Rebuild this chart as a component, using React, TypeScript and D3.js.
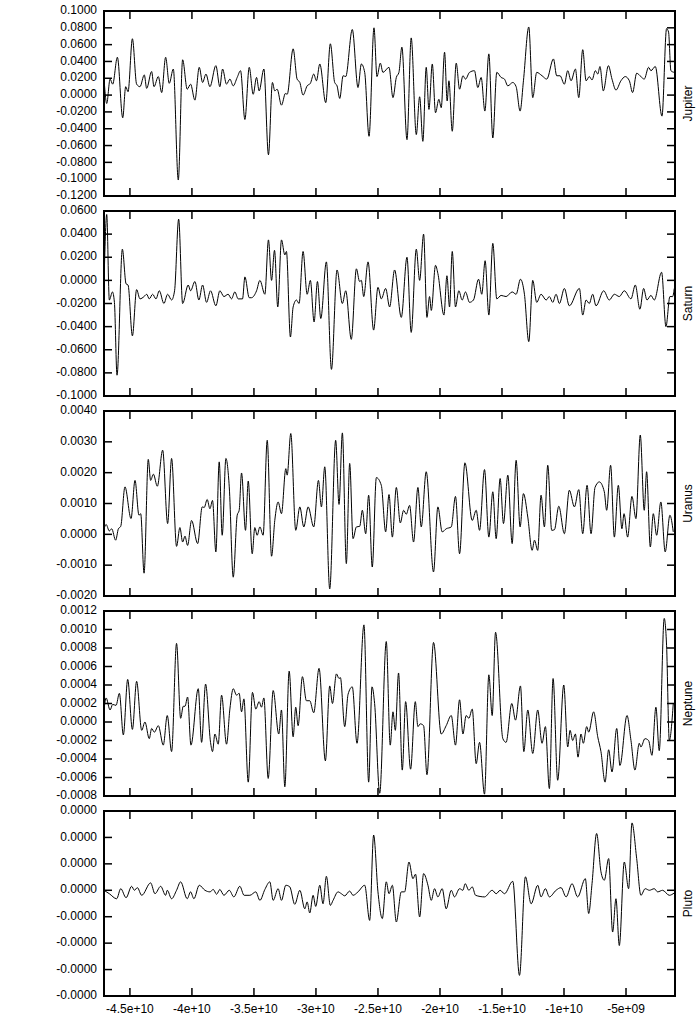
import React from 'react';
import * as d3 from 'd3';

// time in units of 1e9
const jupiter: [number, number][] = [
  [-47.09, 0.020], [-46.87, -0.010], [-46.60, 0.019], [-46.39, 0.013], [-46.01, 0.045], [-45.58, -0.027],
  [-45.34, 0.010], [-45.15, 0.004], [-44.80, 0.067], [-44.46, 0.013], [-44.19, 0.010], [-43.84, 0.024],
  [-43.65, 0.008], [-43.25, 0.028], [-43.06, 0.010], [-42.71, 0.022], [-42.44, 0.003], [-42.12, 0.045],
  [-41.83, 0.014], [-41.50, 0.031], [-41.10, -0.101], [-40.75, 0.042], [-40.38, 0.007], [-40.11, 0.013],
  [-39.76, -0.006], [-39.41, 0.033], [-39.14, 0.015], [-38.87, 0.025], [-38.55, 0.010], [-38.07, 0.035],
  [-37.75, 0.010], [-37.53, 0.031], [-37.21, 0.013], [-36.94, 0.019], [-36.67, 0.011], [-36.35, 0.021],
  [-36.08, 0.029], [-35.73, -0.029], [-35.38, 0.033], [-35.06, 0.001], [-34.79, 0.021], [-34.58, 0.005],
  [-34.20, 0.031], [-33.83, -0.071], [-33.51, 0.015], [-33.32, 0.005], [-33.13, 0.007], [-32.78, -0.012],
  [-32.46, 0.002], [-32.32, 0.001], [-31.84, 0.055], [-31.52, 0.019], [-31.30, 0.015], [-31.04, 0.000],
  [-30.71, 0.011], [-30.45, 0.014], [-30.18, 0.025], [-29.96, 0.017], [-29.69, 0.037], [-29.21, -0.009],
  [-28.84, 0.061], [-28.49, 0.015], [-28.30, 0.011], [-28.08, -0.004], [-27.81, 0.023], [-27.60, 0.022],
  [-27.07, 0.078], [-26.61, 0.009], [-26.34, 0.037], [-26.07, 0.027], [-25.72, -0.049], [-25.32, 0.080],
  [-25.08, 0.022], [-24.81, 0.038], [-24.60, 0.027], [-24.11, 0.033], [-23.79, -0.003], [-23.52, 0.021],
  [-23.31, 0.027], [-23.07, 0.057], [-22.66, -0.053], [-22.32, 0.068], [-21.91, -0.047], [-21.64, -0.002],
  [-21.38, -0.055], [-21.11, 0.033], [-20.89, -0.017], [-20.62, 0.037], [-20.36, -0.021], [-20.09, -0.005],
  [-19.90, -0.015], [-19.63, 0.051], [-19.42, -0.007], [-19.28, 0.017], [-19.01, -0.043], [-18.69, 0.038],
  [-18.42, 0.007], [-18.15, 0.023], [-17.94, 0.019], [-17.62, 0.027], [-17.22, 0.029], [-16.95, 0.009],
  [-16.68, 0.021], [-16.38, -0.019], [-16.06, 0.049], [-15.74, -0.051], [-15.42, 0.027], [-15.07, 0.021],
  [-14.80, 0.019], [-14.53, 0.011], [-14.13, 0.015], [-13.86, 0.010], [-13.54, -0.019], [-13.27, 0.017],
  [-12.84, 0.081], [-12.52, -0.003], [-12.20, 0.027], [-11.77, 0.023], [-11.39, 0.019], [-10.85, 0.043],
  [-10.59, 0.023], [-10.32, 0.023], [-9.97, 0.013], [-9.70, 0.029], [-9.43, 0.017], [-9.08, 0.031],
  [-8.81, -0.003], [-8.49, 0.054], [-8.22, 0.017], [-7.96, 0.022], [-7.74, 0.018], [-7.47, 0.029],
  [-7.28, 0.025], [-7.10, 0.034], [-6.83, 0.005], [-6.42, 0.035], [-6.13, 0.019], [-5.81, 0.006],
  [-5.41, 0.017], [-5.06, 0.022], [-4.73, 0.017], [-4.47, 0.003], [-4.14, 0.026], [-3.80, 0.022],
  [-3.53, 0.019], [-3.18, 0.033], [-2.99, 0.029], [-2.64, 0.034], [-2.10, -0.025], [-1.73, 0.079],
  [-1.57, 0.075], [-1.38, 0.029], [-1.11, 0.027]
];

const saturn: [number, number][] = [
  [-47.09, -0.003], [-46.87, 0.057], [-46.66, -0.017], [-46.41, -0.010], [-46.25, -0.019], [-46.04, -0.082],
  [-45.61, 0.027], [-45.31, -0.003], [-45.15, -0.004], [-44.80, -0.048], [-44.46, -0.008], [-44.19, -0.016],
  [-43.86, -0.014], [-43.65, -0.012], [-43.44, -0.016], [-43.17, -0.012], [-42.90, -0.016], [-42.63, -0.009],
  [-42.26, -0.020], [-41.96, -0.012], [-41.64, -0.017], [-41.40, -0.009], [-41.07, 0.053], [-40.75, -0.020],
  [-40.30, -0.004], [-40.11, -0.009], [-39.76, -0.001], [-39.44, -0.017], [-39.14, -0.004], [-38.82, -0.019],
  [-38.50, -0.009], [-38.07, -0.022], [-37.75, -0.009], [-37.42, -0.014], [-37.08, -0.012], [-36.81, -0.016],
  [-36.54, -0.010], [-36.27, -0.016], [-35.92, -0.016], [-35.73, 0.003], [-35.38, -0.015], [-35.20, -0.015],
  [-34.79, -0.009], [-34.52, 0.000], [-34.12, -0.012], [-33.83, 0.035], [-33.58, 0.000], [-33.34, 0.026],
  [-33.08, -0.023], [-32.78, 0.035], [-32.51, 0.022], [-32.38, 0.025], [-32.06, -0.049], [-31.84, -0.023],
  [-31.57, -0.017], [-31.36, -0.020], [-31.04, 0.025], [-30.71, -0.012], [-30.45, 0.000], [-30.15, -0.036],
  [-29.88, -0.001], [-29.61, -0.033], [-29.16, 0.016], [-28.75, -0.077], [-28.30, 0.009], [-27.87, -0.020],
  [-27.60, -0.009], [-27.15, -0.051], [-26.74, 0.010], [-26.48, -0.001], [-26.34, 0.000], [-26.15, -0.014],
  [-25.80, 0.016], [-25.35, -0.043], [-25.00, -0.006], [-24.73, -0.016], [-24.38, -0.007], [-24.06, -0.023],
  [-23.66, 0.009], [-23.12, -0.032], [-22.66, 0.020], [-22.32, -0.045], [-21.91, 0.027], [-21.64, 0.000],
  [-21.32, 0.040], [-21.05, -0.032], [-20.84, -0.014], [-20.70, -0.026], [-20.36, 0.013], [-20.17, 0.006],
  [-19.68, -0.030], [-19.44, 0.004], [-19.23, -0.023], [-19.01, 0.025], [-18.75, -0.023], [-18.48, -0.009],
  [-18.21, -0.017], [-17.94, -0.010], [-17.62, -0.019], [-17.30, -0.017], [-16.89, 0.001], [-16.63, -0.012],
  [-16.36, 0.017], [-16.06, -0.030], [-15.74, 0.032], [-15.42, -0.016], [-15.07, -0.013], [-14.67, -0.014],
  [-14.18, -0.010], [-13.86, -0.012], [-13.51, 0.001], [-13.19, -0.012], [-12.84, -0.053], [-12.52, 0.000],
  [-12.20, -0.019], [-11.85, -0.012], [-11.44, -0.017], [-11.18, -0.014], [-10.91, -0.019], [-10.64, -0.012],
  [-10.37, -0.020], [-9.97, -0.007], [-9.57, -0.022], [-8.76, -0.007], [-8.49, -0.030], [-8.22, -0.017],
  [-7.96, -0.020], [-7.69, -0.012], [-7.42, -0.022], [-6.80, -0.009], [-6.35, -0.017], [-5.94, -0.012],
  [-5.54, -0.014], [-5.14, -0.009], [-4.60, -0.016], [-4.25, -0.004], [-3.88, -0.025], [-3.58, -0.007],
  [-3.31, -0.017], [-2.99, -0.013], [-2.72, -0.017], [-2.13, 0.007], [-1.78, -0.040], [-1.46, -0.014],
  [-1.24, -0.014], [-1.11, -0.007]
];

const uranus: [number, number][] = [
  [-47.09, 0.00018], [-46.92, 0.00032], [-46.66, 0.00011], [-46.47, 0.00018], [-46.15, -0.00019], [-45.93, 0.00018],
  [-45.74, 0.00026], [-45.40, 0.00154], [-44.91, 0.00051], [-44.59, 0.00175], [-44.27, 0.00062], [-44.13, 0.00067],
  [-43.86, -0.00126], [-43.52, 0.00243], [-43.33, 0.00175], [-43.11, 0.00195], [-42.79, 0.00156], [-42.36, 0.00273],
  [-41.96, 0.00035], [-41.64, 0.00246], [-41.24, -0.00039], [-40.97, 0.00022], [-40.75, -0.00025], [-40.56, -0.00006],
  [-40.35, -0.00036], [-40.03, 0.00045], [-39.54, -0.00030], [-39.17, 0.00089], [-39.01, 0.00087], [-38.77, 0.00113],
  [-38.55, 0.00083], [-38.34, 0.00110], [-38.07, -0.00057], [-37.80, 0.00235], [-37.56, -0.00003], [-37.26, 0.00246],
  [-36.99, 0.00154], [-36.67, -0.00139], [-36.35, 0.00062], [-36.19, 0.00078], [-36.00, 0.00199], [-35.68, 0.00013],
  [-35.46, 0.00173], [-35.14, -0.00063], [-34.93, 0.00022], [-34.74, -0.00003], [-34.52, 0.00024], [-34.26, -0.00003],
  [-33.93, 0.00305], [-33.58, -0.00071], [-33.32, 0.00045], [-33.05, 0.00105], [-32.78, 0.00067], [-32.43, 0.00213],
  [-32.32, 0.00192], [-32.03, 0.00327], [-31.63, 0.00013], [-31.30, 0.00089], [-30.98, 0.00024], [-30.63, 0.00089],
  [-30.18, 0.00024], [-29.80, 0.00175], [-29.56, 0.00089], [-29.29, 0.00219], [-28.89, -0.00177], [-28.41, 0.00305],
  [-28.14, 0.00097], [-27.87, 0.00329], [-27.55, -0.00095], [-27.28, 0.00230], [-27.01, -0.00014], [-26.74, 0.00024],
  [-26.47, 0.00026], [-26.26, 0.00078], [-25.99, 0.00002], [-25.75, 0.00127], [-25.46, -0.00106], [-25.13, 0.00184],
  [-24.73, 0.00159], [-24.38, 0.00008], [-24.11, 0.00129], [-23.84, -0.00009], [-23.52, 0.00152], [-23.20, 0.00037],
  [-22.93, 0.00078], [-22.72, 0.00065], [-22.45, 0.00094], [-22.13, -0.00025], [-21.78, 0.00152], [-21.51, 0.00024],
  [-21.11, 0.00203], [-20.52, -0.00122], [-20.17, 0.00089], [-19.82, 0.00008], [-19.50, 0.00018], [-19.09, 0.00024],
  [-18.75, 0.00123], [-18.42, -0.00063], [-17.99, 0.00232], [-17.40, 0.00045], [-17.08, 0.00078], [-16.81, 0.00013],
  [-16.41, 0.00210], [-16.06, -0.00009], [-15.74, 0.00138], [-15.47, -0.00014], [-15.15, 0.00181], [-14.88, 0.00035],
  [-14.53, 0.00192], [-14.18, -0.00030], [-13.86, 0.00240], [-13.54, 0.00024], [-13.27, 0.00132], [-12.92, 0.00056],
  [-12.57, -0.00052], [-12.38, -0.00019], [-12.12, -0.00052], [-11.85, 0.00127], [-11.58, 0.00024], [-11.31, 0.00224],
  [-10.99, 0.00013], [-10.77, 0.00015], [-10.42, 0.00091], [-9.97, 0.00002], [-9.57, 0.00143], [-9.16, 0.00089],
  [-8.81, 0.00145], [-8.49, 0.00002], [-8.14, 0.00159], [-7.82, 0.00002], [-7.50, 0.00152], [-7.15, 0.00170],
  [-6.75, 0.00138], [-6.56, 0.00078], [-6.24, 0.00224], [-5.94, -0.00009], [-5.62, 0.00159], [-5.33, 0.00018],
  [-5.16, 0.00067], [-4.87, -0.00009], [-4.52, 0.00123], [-4.20, 0.00051], [-3.85, 0.00322], [-3.53, 0.00078],
  [-3.34, 0.00203], [-3.04, -0.00041], [-2.80, 0.00067], [-2.53, -0.00003], [-2.19, 0.00105], [-1.84, -0.00057],
  [-1.46, 0.00062], [-1.19, 0.00008]
];

const neptune: [number, number][] = [
  [-47.09, 0.00013], [-46.92, 0.00026], [-46.60, 0.00013], [-46.39, 0.00019], [-46.12, 0.00018], [-45.85, 0.00031],
  [-45.53, -0.00014], [-45.18, 0.00046], [-44.80, -0.00008], [-44.46, 0.00044], [-44.05, -0.00009], [-43.79, 0.00000],
  [-43.44, -0.00018], [-43.25, -0.00007], [-43.03, -0.00011], [-42.71, -0.00004], [-42.31, -0.00025], [-41.99, 0.00007],
  [-41.64, -0.00032], [-41.24, 0.00085], [-40.91, 0.00004], [-40.70, 0.00017], [-40.56, 0.00017], [-40.35, 0.00027],
  [-40.08, -0.00025], [-39.49, 0.00036], [-39.22, -0.00022], [-38.90, 0.00041], [-38.50, -0.00022], [-38.34, -0.00032],
  [-38.15, -0.00013], [-37.88, -0.00024], [-37.61, 0.00029], [-37.21, -0.00024], [-36.94, 0.00014], [-36.67, 0.00036],
  [-36.40, 0.00029], [-36.19, 0.00031], [-36.00, 0.00011], [-35.81, 0.00025], [-35.46, -0.00065], [-35.12, 0.00032],
  [-34.85, 0.00014], [-34.58, 0.00022], [-34.39, 0.00016], [-34.20, 0.00026], [-33.85, -0.00061], [-33.45, 0.00034],
  [-33.00, -0.00013], [-32.78, 0.00013], [-32.51, -0.00070], [-32.16, 0.00055], [-31.84, -0.00016], [-31.63, 0.00016],
  [-31.44, -0.00004], [-31.09, 0.00049], [-30.77, 0.00023], [-30.50, 0.00023], [-30.18, 0.00010], [-29.75, 0.00058],
  [-29.24, -0.00042], [-28.89, 0.00039], [-28.67, 0.00020], [-28.35, 0.00052], [-28.14, 0.00047], [-28.03, 0.00048],
  [-27.68, -0.00005], [-27.41, 0.00030], [-27.07, 0.00038], [-26.69, -0.00023], [-26.13, 0.00105], [-25.75, -0.00065],
  [-25.48, 0.00038], [-25.27, 0.00020], [-24.86, -0.00077], [-24.33, 0.00087], [-24.01, -0.00025], [-23.79, 0.00011],
  [-23.60, -0.00009], [-23.34, 0.00053], [-23.04, -0.00052], [-22.77, 0.00022], [-22.37, -0.00051], [-21.99, 0.00022],
  [-21.78, -0.00005], [-21.59, -0.00002], [-21.32, -0.00004], [-21.05, -0.00057], [-20.52, 0.00086], [-19.90, -0.00013],
  [-19.50, -0.00004], [-19.09, 0.00007], [-18.75, -0.00025], [-18.42, 0.00024], [-18.15, -0.00013], [-17.89, 0.00007],
  [-17.67, 0.00004], [-17.40, 0.00014], [-17.08, -0.00045], [-16.81, -0.00022], [-16.41, -0.00078], [-16.06, 0.00051],
  [-15.79, 0.00007], [-15.52, 0.00097], [-14.93, -0.00018], [-14.67, -0.00022], [-14.21, 0.00020], [-13.91, 0.00002],
  [-13.51, 0.00039], [-13.24, -0.00032], [-12.92, 0.00013], [-12.52, -0.00034], [-12.12, 0.00013], [-11.77, -0.00023],
  [-11.50, -0.00005], [-11.18, -0.00072], [-10.88, 0.00047], [-10.51, -0.00063], [-10.02, 0.00040], [-9.70, -0.00027],
  [-9.51, -0.00009], [-9.30, -0.00020], [-9.08, -0.00013], [-8.87, -0.00038], [-8.63, -0.00013], [-8.44, -0.00023],
  [-8.17, -0.00005], [-8.01, -0.00011], [-7.61, 0.00011], [-7.28, -0.00016], [-7.02, -0.00032], [-6.69, -0.00065],
  [-6.40, -0.00030], [-6.13, -0.00054], [-5.75, -0.00007], [-5.49, -0.00047], [-4.92, 0.00007], [-4.60, -0.00020],
  [-4.28, -0.00052], [-3.93, -0.00023], [-3.80, -0.00027], [-3.47, -0.00018], [-3.18, -0.00020], [-2.91, -0.00036],
  [-2.59, 0.00016], [-2.32, -0.00031], [-1.92, 0.00112], [-1.73, 0.00083], [-1.51, -0.00020], [-1.19, 0.00020]
];

const pluto: [number, number][] = [
  [-47.09, 0], [-46.66, -0.13e-5], [-46.07, -0.32e-5], [-45.74, 0.06e-5], [-45.31, -0.28e-5], [-44.86, 0.15e-5],
  [-44.64, 0], [-44.40, 0.10e-5], [-44.05, -0.19e-5], [-43.33, 0.28e-5], [-42.98, -0.13e-5], [-42.52, 0.15e-5],
  [-42.12, -0.19e-5], [-41.99, 0], [-41.64, -0.32e-5], [-41.24, 0], [-40.91, 0.32e-5], [-40.38, -0.32e-5],
  [-40.11, -0.06e-5], [-39.84, -0.32e-5], [-39.41, 0.19e-5], [-38.95, 0], [-38.55, -0.06e-5], [-38.28, 0.03e-5],
  [-38.01, -0.15e-5], [-37.75, 0.03e-5], [-37.42, -0.19e-5], [-36.99, 0], [-36.62, -0.25e-5], [-36.14, 0.15e-5],
  [-35.79, -0.19e-5], [-35.33, -0.19e-5], [-34.85, -0.06e-5], [-34.52, -0.38e-5], [-34.12, 0.03e-5], [-33.72, 0.32e-5],
  [-33.45, -0.38e-5], [-33.05, 0.06e-5], [-32.78, -0.38e-5], [-32.43, 0.19e-5], [-32.11, 0.13e-5], [-31.71, -0.53e-5],
  [-31.30, 0], [-30.90, -0.70e-5], [-30.71, -0.44e-5], [-30.50, -0.86e-5], [-30.23, -0.19e-5], [-30.02, -0.61e-5],
  [-29.69, 0.19e-5], [-29.43, -0.51e-5], [-29.16, 0.53e-5], [-28.84, -0.57e-5], [-28.62, -0.38e-5], [-28.22, -0.06e-5],
  [-27.95, -0.13e-5], [-27.68, -0.21e-5], [-27.28, -0.03e-5], [-27.01, -0.19e-5], [-26.61, -0.06e-5], [-26.07, 0.19e-5],
  [-25.67, -1.14e-5], [-25.35, 2.09e-5], [-25.00, -0.06e-5], [-24.65, -1.07e-5], [-24.33, 0.32e-5], [-24.11, -0.13e-5],
  [-23.84, 0.19e-5], [-23.52, -1.20e-5], [-23.12, -0.06e-5], [-22.85, -0.06e-5], [-22.50, 1.07e-5], [-22.18, 0.44e-5],
  [-21.97, 0.61e-5], [-21.64, -1.01e-5], [-21.32, 0.63e-5], [-20.97, 0.19e-5], [-20.70, -0.38e-5], [-20.44, 0.06e-5],
  [-20.17, -0.25e-5], [-19.82, 0.06e-5], [-19.50, -0.70e-5], [-19.09, 0], [-18.83, -0.25e-5], [-18.42, 0.06e-5],
  [-18.15, 0], [-17.97, 0.25e-5], [-17.67, 0], [-17.40, 0.13e-5], [-17.13, -0.19e-5], [-16.41, -0.25e-5],
  [-15.79, 0], [-15.47, -0.13e-5], [-15.15, 0], [-14.80, -0.13e-5], [-14.13, 0.34e-5], [-13.59, -3.22e-5],
  [-13.11, 0.51e-5], [-12.65, -0.51e-5], [-12.12, 0.19e-5], [-11.85, -0.25e-5], [-11.50, 0.06e-5], [-11.18, -0.25e-5],
  [-10.64, 0], [-10.24, 0.10e-5], [-9.83, -0.25e-5], [-9.35, 0.25e-5], [-8.90, -0.25e-5], [-8.28, 0.44e-5],
  [-8.01, -0.88e-5], [-7.74, 0.25e-5], [-7.37, 2.15e-5], [-7.02, 0.70e-5], [-6.75, 0.38e-5], [-6.40, 1.20e-5],
  [-6.08, -1.58e-5], [-5.81, -0.32e-5], [-5.54, -2.09e-5], [-5.14, 1.07e-5], [-4.79, 0.06e-5], [-4.52, 2.55e-5],
  [-4.14, 1.20e-5], [-3.80, -0.19e-5], [-3.45, 0.06e-5], [-3.12, 0], [-2.72, 0.06e-5], [-2.45, -0.06e-5],
  [-2.05, 0], [-1.51, -0.19e-5], [-1.11, -0.10e-5]
];

const jupiterTicks = [-0.12, -0.10, -0.08, -0.06, -0.04, -0.02, 0, 0.02, 0.04, 0.06, 0.08, 0.10];
const saturnTicks = [-0.10, -0.08, -0.06, -0.04, -0.02, 0, 0.02, 0.04, 0.06];
const uranusTicks = [-0.002, -0.001, 0, 0.001, 0.002, 0.003, 0.004];
const neptuneTicks = [-0.0008, -0.0006, -0.0004, -0.0002, 0, 0.0002, 0.0004, 0.0006, 0.0008, 0.0010, 0.0012];
const plutoTicks = [-4e-5, -3e-5, -2e-5, -1e-5, 0, 1e-5, 2e-5, 3e-5];

const xTicks = [-45, -40, -35, -30, -25, -20, -15, -10, -5];
const xTickLabels = ['-4.5e+10', '-4e+10', '-3.5e+10', '-3e+10', '-2.5e+10', '-2e+10', '-1.5e+10', '-1e+10', '-5e+09'];
const xDomain = [-47.09, -1.05];

const panels = [
  {name: 'Jupiter', data: jupiter, ticks: jupiterTicks},
  {name: 'Saturn', data: saturn, ticks: saturnTicks},
  {name: 'Uranus', data: uranus, ticks: uranusTicks},
  {name: 'Neptune', data: neptune, ticks: neptuneTicks},
  {name: 'Pluto', data: pluto, ticks: plutoTicks},
];

const width = 700;
const height = 1021;
const left = 104;
const right = 675;
const firstTop = 11;
const step = 200;
const panelH = 185;
const tickLen = 8;
const font = '"Liberation Sans", Arial, sans-serif';

export default function App() {
  const x = d3.scaleLinear().domain(xDomain).range([left, right]);

  return (
    <svg width={width} height={height} style={{position: 'absolute', left: 0, top: 0, background: '#fff'}}
         fontFamily={font} fontSize={12}>
      <rect width={width} height={height} fill="#fff"/>
      {panels.map((p, i) => {
        const top = firstTop + i * step;
        const y = d3.scaleLinear()
          .domain([p.ticks[0], p.ticks[p.ticks.length - 1]])
          .range([panelH, 0]);
        const line = d3.line<[number, number]>()
          .x(d => x(d[0]))
          .y(d => y(d[1]))
          .curve(d3.curveMonotoneX);
        const clipId = `clip-${i}`;
        return (
          <g key={p.name} transform={`translate(0, ${top})`}>
            <clipPath id={clipId}>
              <rect x={left} y={0} width={right - left} height={panelH}/>
            </clipPath>
            <path d={line(p.data) || ''} fill="none" stroke="#000" strokeWidth={1} clipPath={`url(#${clipId})`}/>
            {p.ticks.map(t => (
              <g key={t}>
                <line x1={left} x2={left + tickLen} y1={y(t)} y2={y(t)} stroke="#000" strokeWidth={1.5}/>
                <line x1={right - tickLen} x2={right} y1={y(t)} y2={y(t)} stroke="#000" strokeWidth={1.5}/>
                <text x={left - 7} y={y(t)} textAnchor="end" dominantBaseline="middle">{t.toFixed(4)}</text>
              </g>
            ))}
            {xTicks.map(t => (
              <g key={t}>
                <line x1={x(t)} x2={x(t)} y1={0} y2={tickLen} stroke="#000" strokeWidth={1.5}/>
                <line x1={x(t)} x2={x(t)} y1={panelH - tickLen} y2={panelH} stroke="#000" strokeWidth={1.5}/>
              </g>
            ))}
            <rect x={left} y={0} width={right - left} height={panelH} fill="none" stroke="#000" strokeWidth={2}/>
            <text transform={`translate(${right + 14}, ${panelH / 2}) rotate(-90)`} textAnchor="middle"
                  dominantBaseline="middle">{p.name}</text>
            {i === panels.length - 1 && xTicks.map((t, k) => (
              <text key={t} x={x(t)} y={panelH + 14} textAnchor="middle" dominantBaseline="middle">
                {xTickLabels[k]}
              </text>
            ))}
          </g>
        );
      })}
    </svg>
  );
}
